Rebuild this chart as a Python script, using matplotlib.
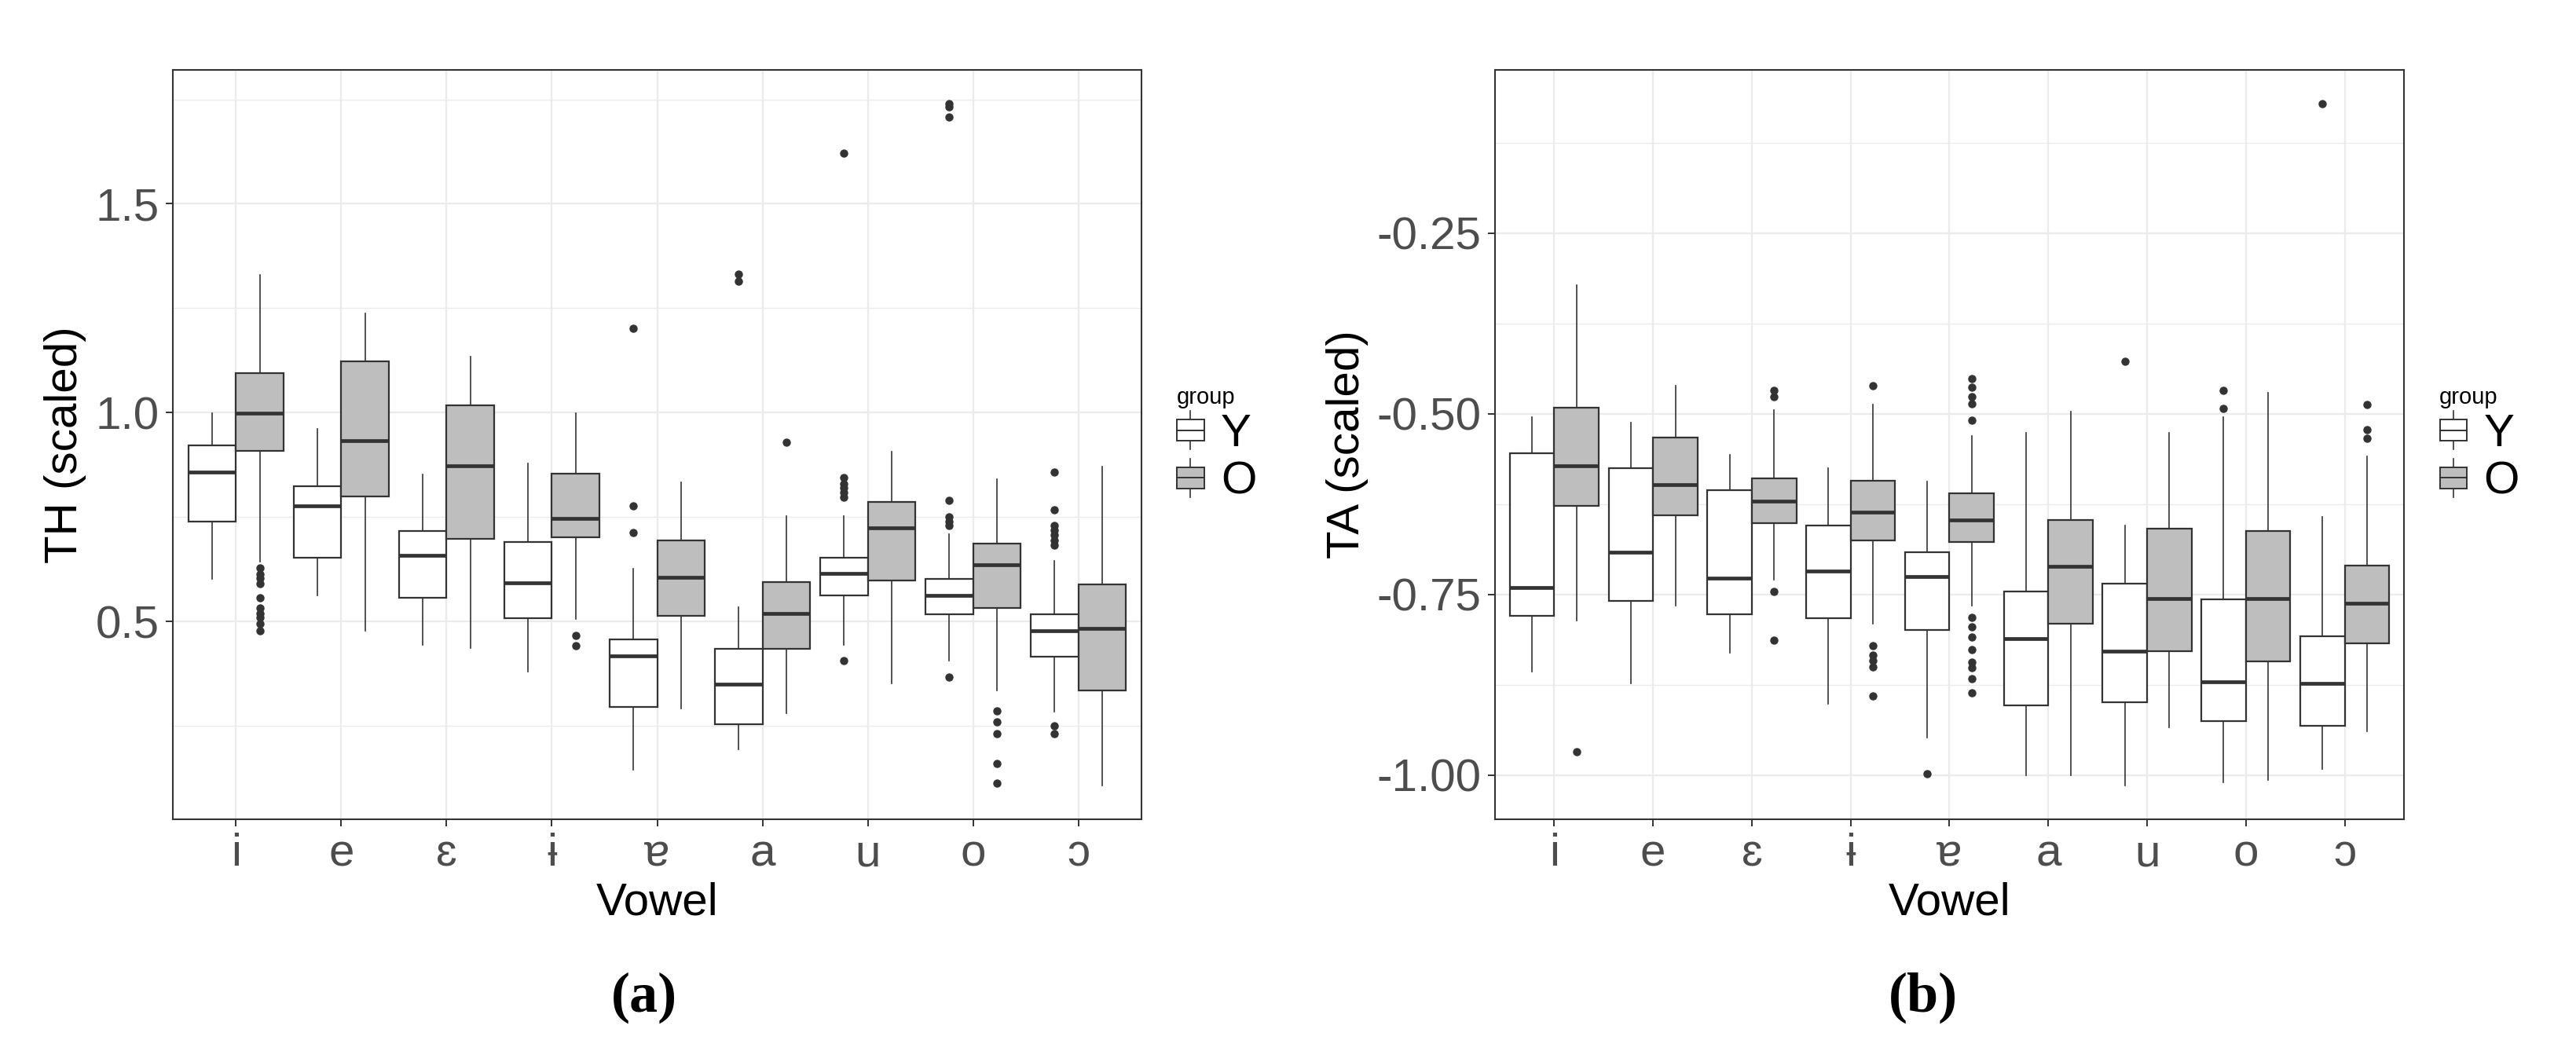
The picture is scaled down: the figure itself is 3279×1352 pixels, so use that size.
import numpy as np
import matplotlib
matplotlib.use('Agg')
import matplotlib.pyplot as plt
from matplotlib.legend_handler import HandlerBase
from matplotlib.patches import Rectangle
from matplotlib.lines import Line2D

plt.rcParams['font.family'] = ['Liberation Sans', 'DejaVu Sans']
plt.rcParams['axes.unicode_minus'] = False

vowels = ['i', 'e', 'ɛ', 'ɨ', 'ɐ', 'a', 'u', 'o', 'ɔ']

# (a) TH (scaled), group Y
th_y_lo = [0.601, 0.563, 0.444, 0.380, 0.144, 0.193, 0.444, 0.406, 0.285]
th_y_q1 = [0.739, 0.652, 0.556, 0.508, 0.296, 0.254, 0.563, 0.518, 0.415]
th_y_med = [0.857, 0.777, 0.658, 0.593, 0.417, 0.349, 0.616, 0.563, 0.478]
th_y_q3 = [0.921, 0.824, 0.717, 0.690, 0.457, 0.434, 0.652, 0.602, 0.518]
th_y_hi = [0.998, 0.962, 0.852, 0.878, 0.627, 0.534, 0.752, 0.710, 0.646]
th_y_out = [[], [], [], [], [0.713, 0.777, 1.202], [1.315, 1.331],
            [0.407, 0.797, 0.808, 0.820, 0.830, 0.844, 1.622],
            [0.366, 0.729, 0.740, 0.750, 0.790, 1.707, 1.732, 1.739],
            [0.231, 0.250, 0.682, 0.695, 0.707, 0.718, 0.729, 0.767, 0.858]]

# (a) TH (scaled), group O
th_o_lo = [0.644, 0.478, 0.436, 0.506, 0.291, 0.280, 0.352, 0.334, 0.108]
th_o_q1 = [0.908, 0.800, 0.698, 0.701, 0.514, 0.434, 0.598, 0.533, 0.334]
th_o_med = [0.998, 0.933, 0.872, 0.747, 0.605, 0.520, 0.724, 0.635, 0.483]
th_o_q3 = [1.095, 1.123, 1.018, 0.854, 0.694, 0.595, 0.786, 0.687, 0.588]
th_o_hi = [1.329, 1.238, 1.135, 0.998, 0.833, 0.752, 0.906, 0.840, 0.871]
th_o_out = [[0.477, 0.495, 0.509, 0.520, 0.533, 0.556, 0.590, 0.603, 0.614, 0.628],
            [], [], [0.442, 0.466], [], [0.929], [],
            [0.113, 0.160, 0.232, 0.259, 0.286], []]

# (b) TA (scaled), group Y
ta_y_lo = [-0.857, -0.873, -0.831, -0.901, -0.948, -1.000, -1.014, -1.010, -0.992]
ta_y_q1 = [-0.779, -0.759, -0.777, -0.783, -0.799, -0.903, -0.899, -0.925, -0.932]
ta_y_med = [-0.740, -0.691, -0.727, -0.718, -0.725, -0.811, -0.829, -0.871, -0.873]
ta_y_q3 = [-0.554, -0.575, -0.606, -0.655, -0.692, -0.746, -0.735, -0.757, -0.808]
ta_y_hi = [-0.504, -0.512, -0.557, -0.575, -0.594, -0.526, -0.654, -0.504, -0.643]
ta_y_out = [[], [], [], [], [-0.998], [], [-0.427], [-0.493, -0.467], [-0.071]]

# (b) TA (scaled), group O
ta_o_lo = [-0.786, -0.765, -0.729, -0.790, -0.765, -1.000, -0.934, -1.007, -0.939]
ta_o_q1 = [-0.627, -0.640, -0.651, -0.675, -0.677, -0.790, -0.828, -0.843, -0.818]
ta_o_med = [-0.572, -0.598, -0.621, -0.636, -0.647, -0.711, -0.756, -0.756, -0.762]
ta_o_q3 = [-0.491, -0.533, -0.589, -0.593, -0.610, -0.647, -0.659, -0.662, -0.710]
ta_o_hi = [-0.322, -0.461, -0.495, -0.487, -0.530, -0.497, -0.526, -0.471, -0.559]
ta_o_out = [[-0.968], [], [-0.468, -0.476, -0.746, -0.813],
            [-0.461, -0.821, -0.834, -0.842, -0.850, -0.890],
            [-0.451, -0.463, -0.476, -0.486, -0.509, -0.782, -0.795, -0.809,
             -0.826, -0.844, -0.851, -0.867, -0.886],
            [], [], [], [-0.487, -0.522, -0.534]]

groups = ['Y', 'O']
fills = ['white', '#bebebe']
EDGE = '#333333'
TICK_C = '#4d4d4d'


class BoxKey(HandlerBase):
    # little boxplot glyph like ggplot's legend key
    def create_artists(self, legend, orig_handle, xdescent, ydescent,
                       width, height, fontsize, trans):
        x0, y0 = -xdescent, -ydescent
        cx = x0 + width / 2
        bw = width * 0.95
        whisk = Line2D([cx, cx], [y0 - height * 0.05, y0 + height * 1.05],
                       color=EDGE, lw=1.2, transform=trans)
        box = Rectangle((cx - bw / 2, y0 + height * 0.2), bw, height * 0.6,
                        facecolor=orig_handle.get_facecolor(), edgecolor=EDGE,
                        lw=1.4, transform=trans)
        med = Line2D([cx - bw / 2, cx + bw / 2], [y0 + height / 2] * 2,
                     color=EDGE, lw=1.4, transform=trans)
        return [whisk, box, med]


def make_stats(lo, q1, med, q3, hi, out):
    return [dict(whislo=lo[k], q1=q1[k], med=med[k], q3=q3[k], whishi=hi[k],
                 fliers=out[k]) for k in range(len(lo))]


def draw_panel(ax, series, ylabel, major, minor, ticklabels, legend_x):
    x = np.arange(1, len(vowels) + 1)
    offs = [-0.225, 0.225]
    allv = []
    for (stats, fill, off) in zip(series, fills, offs):
        ax.bxp(stats, positions=x + off, widths=0.45, patch_artist=True,
               showcaps=False, manage_ticks=False,
               boxprops=dict(facecolor=fill, edgecolor=EDGE, linewidth=1.6),
               medianprops=dict(color=EDGE, linewidth=3.4, solid_capstyle='butt'),
               whiskerprops=dict(color=EDGE, linewidth=1.2),
               flierprops=dict(marker='o', markerfacecolor=EDGE,
                               markeredgecolor=EDGE, markersize=6.5))
        for s in stats:
            allv += [s['whislo'], s['whishi']] + list(s['fliers'])
    lo, hi = min(allv), max(allv)
    pad = (hi - lo) * 0.05
    ax.set_ylim(lo - pad, hi + pad)
    ax.set_xlim(0.4, len(vowels) + 0.6)

    ax.set_xticks(x)
    ax.set_xticklabels(vowels)
    ax.set_yticks(major)
    ax.set_yticklabels(ticklabels)
    ax.set_yticks(minor, minor=True)
    ax.tick_params(axis='y', which='minor', length=0)
    ax.tick_params(which='major', length=6.5, width=1.4, color=EDGE,
                   labelsize=42, labelcolor=TICK_C, pad=6)
    ax.grid(True, which='major', color='#ebebeb', linewidth=1.6)
    ax.grid(True, which='minor', axis='y', color='#ebebeb', linewidth=1.0)
    ax.set_axisbelow(True)
    for sp in ax.spines.values():
        sp.set_color(EDGE)
        sp.set_linewidth(1.5)

    ax.set_xlabel('Vowel', fontsize=42, labelpad=6)
    ax.set_ylabel(ylabel, fontsize=42, labelpad=8)

    handles = [Rectangle((0, 0), 1, 1, facecolor=f) for f in fills]
    ax.legend(handles, groups, handler_map={Rectangle: BoxKey()},
              title='group', title_fontsize=21, fontsize=42, frameon=False,
              loc='center left', bbox_to_anchor=(legend_x, 0.5), borderpad=0,
              alignment='left', handlelength=0.62, handleheight=0.8,
              handletextpad=0.35, labelspacing=0.1, borderaxespad=0)


fig = plt.figure(figsize=(32.8, 13.52), dpi=100)
W, H = 3280.0, 1352.0
ax1 = fig.add_axes([220 / W, 1 - 1043 / H, 1233 / W, 954 / H])
ax2 = fig.add_axes([1903 / W, 1 - 1043 / H, 1157 / W, 954 / H])

th_series = [make_stats(th_y_lo, th_y_q1, th_y_med, th_y_q3, th_y_hi, th_y_out),
             make_stats(th_o_lo, th_o_q1, th_o_med, th_o_q3, th_o_hi, th_o_out)]
ta_series = [make_stats(ta_y_lo, ta_y_q1, ta_y_med, ta_y_q3, ta_y_hi, ta_y_out),
             make_stats(ta_o_lo, ta_o_q1, ta_o_med, ta_o_q3, ta_o_hi, ta_o_out)]

draw_panel(ax1, th_series, 'TH (scaled)', [0.5, 1.0, 1.5],
           [0.25, 0.75, 1.25, 1.75], ['0.5', '1.0', '1.5'], 1.036)
draw_panel(ax2, ta_series, 'TA (scaled)', [-1.0, -0.75, -0.5, -0.25],
           [-0.875, -0.625, -0.375, -0.125],
           ['-1.00', '-0.75', '-0.50', '-0.25'], 1.039)

fig.text(820 / W, 1 - 1270 / H, '(a)', ha='center', va='center',
         fontsize=52, fontweight='bold', family='Liberation Serif')
fig.text(2448 / W, 1 - 1270 / H, '(b)', ha='center', va='center',
         fontsize=52, fontweight='bold', family='Liberation Serif')

fig.savefig('out.png', dpi=100, facecolor='white')
